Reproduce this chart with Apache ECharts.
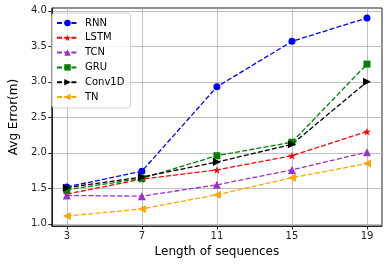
<!DOCTYPE html>
<html>
<head>
<meta charset="utf-8">
<script src="https://cdn.jsdelivr.net/npm/echarts@6/dist/echarts.min.js"></script>
<style>html,body{margin:0;padding:0;background:#fff}#c{width:389px;height:267px}</style>
</head>
<body>
<div id="c"></div>
<script>
const seqLengths = [3, 7, 11, 15, 19];
const yTicks = [1.0, 1.5, 2.0, 2.5, 3.0, 3.5, 4.0];
const rnn    = [1.52, 1.74, 2.93, 3.57, 3.90];
const lstm   = [1.42, 1.63, 1.76, 1.96, 2.30];
const tcn    = [1.40, 1.39, 1.55, 1.76, 2.01];
const gru    = [1.48, 1.64, 1.96, 2.15, 3.25];
const conv1d = [1.51, 1.66, 1.87, 2.12, 3.00];
const tn     = [1.11, 1.21, 1.41, 1.65, 1.85];

const STAR = 'path://M50,0 L61,35 L98,35 L68,57 L79,91 L50,70 L21,91 L32,57 L2,35 L39,35 Z';
const TRI_R = 'path://M0,0 L10,5 L0,10 Z';
const TRI_L = 'path://M10,0 L0,5 L10,10 Z';
const TRI_U = 'path://M5,0 L10,10 L0,10 Z';

function mk(name, vals, color, symbol, size) {
  return {
    name, type: 'line',
    data: seqLengths.map((x, i) => [x, vals[i]]),
    symbol, symbolSize: size,
    itemStyle: {color},
    lineStyle: {color, width: 1.3, type: [5, 2.2]},
    showAllSymbol: true,
    animation: false
  };
}

const chart = echarts.init(document.getElementById('c'), null, {renderer: 'canvas'});
chart.setOption({
  animation: false,
  textStyle: {fontFamily: 'DejaVu Sans'},
  grid: {left: 47, right: 7, top: 8, bottom: 41, show: true, borderColor: '#222', borderWidth: 1, containLabel: false},
  legend: {
    orient: 'vertical', left: 52, top: 13,
    itemWidth: 21, itemHeight: 8, itemGap: 4.8,
    padding: [5, 6, 6, 4],
    backgroundColor: 'rgba(255,255,255,0.8)',
    borderColor: '#d0d0d0', borderWidth: 1, borderRadius: 3,
    textStyle: {fontSize: 10, color: '#000', fontFamily: 'DejaVu Sans', padding: [0, 0, 0, 2]},
    data: ['RNN', 'LSTM', 'TCN', 'GRU', 'Conv1D', 'TN']
  },
  xAxis: {
    type: 'value', min: 2.2, max: 19.8,
    name: 'Length of sequences', nameLocation: 'middle', nameGap: 19,
    nameTextStyle: {fontSize: 12, color: '#000', fontFamily: 'DejaVu Sans'},
    axisLine: {show: true, onZero: false, lineStyle: {color: '#222', width: 1}},
    axisTick: {show: true, length: 3.5, lineStyle: {color: '#222'}, customValues: seqLengths},
    axisLabel: {fontSize: 10, color: '#222', margin: 5, customValues: seqLengths},
    splitLine: {show: true, lineStyle: {color: '#b0b0b0', width: 0.8}}
  },
  yAxis: {
    type: 'value', min: 0.97, max: 4.04,
    name: 'Avg Error(m)', nameLocation: 'middle', nameGap: 28,
    nameTextStyle: {fontSize: 12, color: '#000', fontFamily: 'DejaVu Sans'},
    axisLine: {show: true, lineStyle: {color: '#222', width: 1}},
    axisTick: {show: true, length: 3.5, lineStyle: {color: '#222'}, customValues: yTicks},
    axisLabel: {fontSize: 10, color: '#222', margin: 5, customValues: yTicks, formatter: v => v.toFixed(1)},
    splitLine: {show: true, lineStyle: {color: '#b0b0b0', width: 0.8}}
  },
  series: [
    mk('RNN', rnn, '#0000ff', 'circle', 7),
    mk('LSTM', lstm, '#ff0000', STAR, 8),
    mk('TCN', tcn, '#9932cc', TRI_U, 8),
    mk('GRU', gru, '#008000', 'rect', 7),
    mk('Conv1D', conv1d, '#000000', TRI_R, 8),
    mk('TN', tn, '#ffa500', TRI_L, 8)
  ]
});
</script>
</body>
</html>
